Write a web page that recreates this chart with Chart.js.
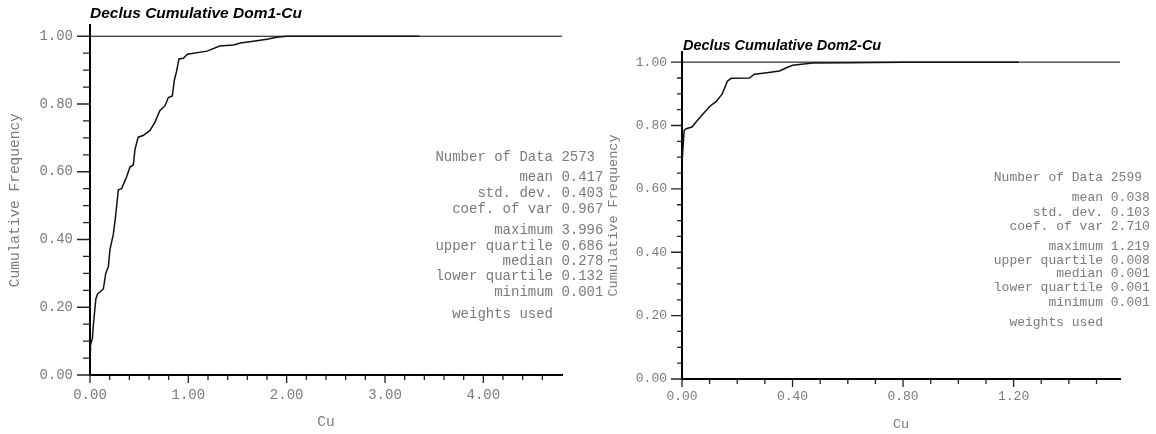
<!DOCTYPE html>
<html>
<head>
<meta charset="utf-8">
<script src="https://cdn.jsdelivr.net/npm/chart.js@4.4.1/dist/chart.umd.min.js"></script>
<style>
   body { margin: 0; background: #fff; width: 1156px; height: 434px; position: relative; overflow: hidden; }
   canvas { position: absolute; left: 0; top: 0; }
   .titulo { position: absolute; font-family: "Liberation Sans", Arial, sans-serif; font-style: italic; font-weight: bold; color: #000; line-height: 18px; white-space: nowrap; }
   .stat { position: absolute; font-family: "Liberation Mono", monospace; color: #7a7a7a; line-height: 14px; white-space: pre; }
</style>
</head>
<body>
<canvas id="grafico1" width="1156" height="434"></canvas>
<canvas id="grafico2" width="1156" height="434"></canvas>
<div class="titulo" style="left:90px;top:4px;font-size:15.5px">Declus Cumulative Dom1-Cu</div>
<div class="titulo" style="left:683px;top:36px;font-size:14.5px">Declus Cumulative Dom2-Cu</div>
<div id="stats1"></div>
<div id="stats2"></div>
<script>
// Dados (Cu, frequencia acumulada)
const dom1Cu = [0.001, 0.005, 0.024, 0.035, 0.05, 0.06, 0.078, 0.10, 0.136, 0.16, 0.187, 0.203, 0.237, 0.26, 0.288,
   0.322, 0.35, 0.373, 0.39, 0.407, 0.44, 0.458, 0.49, 0.54, 0.61, 0.66, 0.71, 0.763, 0.797, 0.837, 0.858, 0.88,
   0.905, 0.95, 0.99, 1.19, 1.32, 1.46, 1.53, 1.66, 1.80, 1.90, 2.00, 3.35];
const dom1Freq = [0.073, 0.088, 0.108, 0.15, 0.196, 0.225, 0.24, 0.245, 0.254, 0.30, 0.32, 0.37, 0.415, 0.468, 0.547,
   0.55, 0.57, 0.585, 0.60, 0.614, 0.62, 0.667, 0.702, 0.707, 0.722, 0.746, 0.78, 0.795, 0.819, 0.824, 0.871, 0.896,
   0.933, 0.935, 0.947, 0.956, 0.971, 0.974, 0.98, 0.985, 0.991, 0.997, 1.0, 1.0];

const dom2Cu = [0.001, 0.005, 0.008, 0.015, 0.036, 0.05, 0.08, 0.10, 0.124, 0.145, 0.155, 0.164, 0.178, 0.244, 0.262,
   0.30, 0.353, 0.38, 0.40, 0.473, 0.60, 0.70, 0.80, 1.219];
const dom2Freq = [0.693, 0.75, 0.785, 0.79, 0.795, 0.81, 0.84, 0.86, 0.876, 0.899, 0.92, 0.94, 0.949, 0.95, 0.962,
   0.966, 0.972, 0.983, 0.99, 0.997, 0.998, 0.999, 0.9995, 1.0];

// Estatisticas
const statLabels = ['Number of Data', 'mean', 'std. dev.', 'coef. of var', 'maximum', 'upper quartile', 'median', 'lower quartile', 'minimum', 'weights used'];
const dom1Stats = ['2573', '0.417', '0.403', '0.967', '3.996', '0.686', '0.278', '0.132', '0.001', ''];
const dom2Stats = ['2599', '0.038', '0.103', '2.710', '1.219', '0.008', '0.001', '0.001', '0.001', ''];

// Posicao das linhas do bloco de estatisticas
const statOffsets1 = [0, 20, 36, 52, 73, 89, 103.5, 119, 135, 157];
const statOffsets2 = [0, 20, 34.5, 49, 69, 82.5, 96, 110, 124.5, 145];

function montaStats(id, values, offsets, fontSize, xLabelEnd, yFirst) {
   const box = document.getElementById(id);
   const charW = fontSize * 0.6;
   statLabels.forEach((label, i) => {
      const div = document.createElement('div');
      div.className = 'stat';
      div.style.fontSize = fontSize + 'px';
      div.style.left = (xLabelEnd - 14 * charW) + 'px';
      div.style.top = (yFirst + offsets[i] - 7) + 'px';
      div.textContent = label.padStart(14) + (values[i] ? ' ' + values[i] : '');
      box.appendChild(div);
   });
}
montaStats('stats1', dom1Stats, statOffsets1, 14, 553, 157);
montaStats('stats2', dom2Stats, statOffsets2, 13, 1103, 178);

function isMajor(v, step) {
   return Math.abs(v / step - Math.round(v / step)) < 1e-6;
}

// Marcas dos eixos (maiores e menores)
const marcasEixo = {
   id: 'marcasEixo',
   afterDraw(chart, args, opts) {
      const ctx = chart.ctx;
      const area = chart.chartArea;
      const sx = chart.scales.x;
      const sy = chart.scales.y;
      ctx.save();
      ctx.strokeStyle = '#222';
      ctx.lineWidth = 1.3;
      ctx.beginPath();
      sy.ticks.forEach(t => {
         const py = sy.getPixelForValue(t.value);
         const len = isMajor(t.value, opts.yMajor) ? opts.yLong : opts.yShort;
         ctx.moveTo(area.left - len, py);
         ctx.lineTo(area.left, py);
      });
      sx.ticks.forEach(t => {
         if (t.value >= sx.max - 1e-9) return;
         const px = sx.getPixelForValue(t.value);
         const len = isMajor(t.value, opts.xMajor) ? 8 : 5;
         ctx.moveTo(px, area.bottom);
         ctx.lineTo(px, area.bottom + len);
      });
      ctx.stroke();
      ctx.restore();
   }
};

function criaGrafico(id, cu, freq, cfg) {
   const pontos = cu.map((v, i) => ({ x: v, y: freq[i] }));
   const tickFont = { family: 'Liberation Mono', size: cfg.tickSize };
   const titleFont = { family: 'Liberation Mono', size: cfg.titleSize };
   return new Chart(document.getElementById(id).getContext('2d'), {
      type: 'line',
      data: {
         datasets: [
            {
               data: pontos,
               borderColor: '#111',
               borderWidth: 1.5,
               pointRadius: 0,
               tension: 0
            },
            {
               data: [{ x: 0, y: 1 }, { x: cfg.xMax, y: 1 }],
               borderColor: '#000',
               borderWidth: 1,
               pointRadius: 0
            }
         ]
      },
      options: {
         responsive: false,
         animation: false,
         layout: { padding: cfg.padding },
         plugins: {
            legend: { display: false },
            tooltip: { enabled: false },
            marcasEixo: { yMajor: 0.2, yLong: cfg.yLong, yShort: cfg.yShort, xMajor: cfg.xMajor }
         },
         scales: {
            x: {
               type: 'linear',
               min: 0,
               max: cfg.xMax,
               afterFit: (s) => { s.height = cfg.xHeight; },
               grid: { display: false, drawTicks: false },
               border: { display: true, color: '#000', width: 2 },
               ticks: {
                  stepSize: cfg.xStep,
                  includeBounds: false,
                  autoSkip: false,
                  maxRotation: 0,
                  minRotation: 0,
                  padding: cfg.xPad,
                  color: '#7a7a7a',
                  font: tickFont,
                  callback: (v) => isMajor(v, cfg.xMajor) ? v.toFixed(2) : ''
               },
               title: { display: true, text: 'Cu', color: '#7a7a7a', font: titleFont, padding: { top: 0, bottom: cfg.xTitlePad } }
            },
            y: {
               type: 'linear',
               min: 0,
               max: 1.032,
               afterFit: (s) => { s.width = cfg.yWidth; },
               grid: { display: false, drawTicks: false },
               border: { display: true, color: '#000', width: 2 },
               ticks: {
                  stepSize: 0.05,
                  includeBounds: false,
                  autoSkip: false,
                  padding: cfg.yPad,
                  color: '#7a7a7a',
                  font: tickFont,
                  callback: (v) => isMajor(v, 0.2) ? v.toFixed(2) : ''
               },
               title: { display: true, text: 'Cumulative Frequency', color: '#7a7a7a', font: titleFont, padding: { top: cfg.yTitlePad, bottom: 0 } }
            }
         }
      },
      plugins: [marcasEixo]
   });
}

const chart1 = criaGrafico('grafico1', dom1Cu, dom1Freq, {
   xMax: 4.8, xStep: 0.2, xMajor: 1,
   padding: { left: 0, right: 594, top: 22, bottom: 0 },
   yWidth: 90, xHeight: 59, yPad: 17, xPad: 12,
   yLong: 13, yShort: 7, yTitlePad: 6, xTitlePad: 3,
   tickSize: 14, titleSize: 14.5
});

const chart2 = criaGrafico('grafico2', dom2Cu, dom2Freq, {
   xMax: 1.585, xStep: 0.1, xMajor: 0.4,
   padding: { left: 590, right: 36, top: 52, bottom: 0 },
   yWidth: 92, xHeight: 55, yPad: 15, xPad: 10,
   yLong: 11, yShort: 5, yTitlePad: 15, xTitlePad: 1,
   tickSize: 13, titleSize: 13.5
});
</script>
</body>
</html>
